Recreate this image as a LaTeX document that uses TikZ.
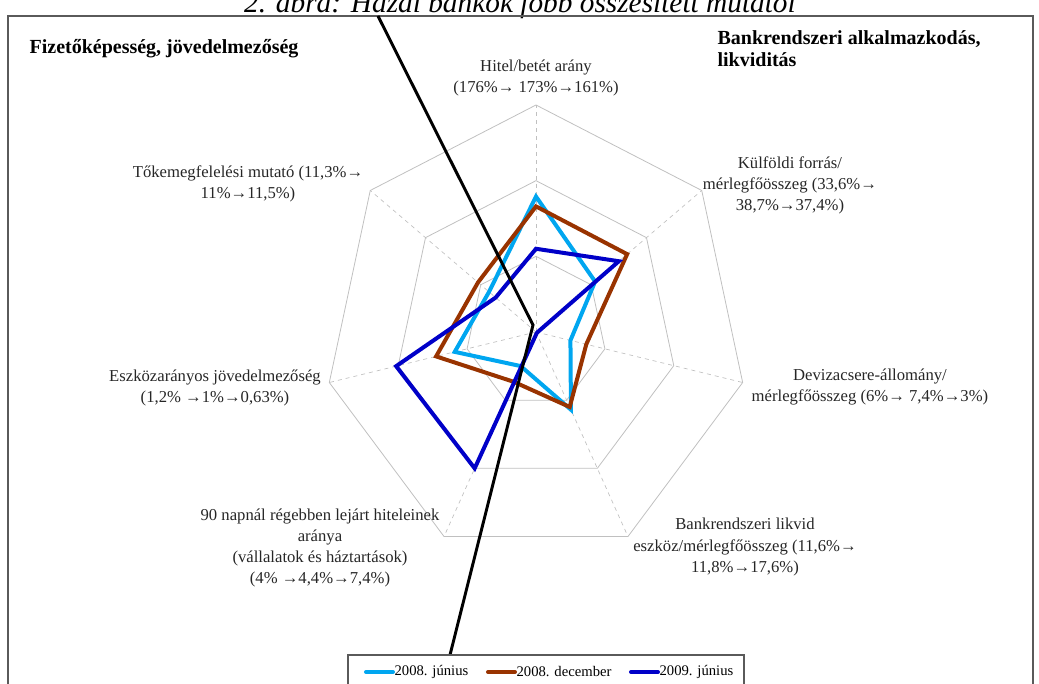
\documentclass[tikz,border=0pt]{standalone}
\usepackage{fontspec}
\setmainfont{Liberation Serif}
\usetikzlibrary{positioning}
\definecolor{jun08}{RGB}{0,166,240}
\definecolor{dec08}{RGB}{153,51,0}
\definecolor{jun09}{RGB}{0,0,200}
\definecolor{gridgray}{RGB}{192,192,192}
\definecolor{framegray}{RGB}{90,90,90}
\tikzset{
  ring/.style={draw=gridgray, line width=0.6pt},
  spoke/.style={draw=gridgray, dashed, line width=0.5pt},
  serie/.style={draw=#1, line width=3pt, line join=miter},
  lbl/.style={font=\fontsize{12.5}{15.8}\selectfont, align=center, text=black!85, inner sep=1pt},
  head/.style={font=\fontsize{15}{16.5}\selectfont\bfseries, align=left, inner sep=1pt},
  legtxt/.style={font=\fontsize{11}{12}\selectfont, inner sep=1pt},
  legline/.style={draw=#1, line width=3pt, line cap=round},
}
\begin{document}
\begin{tikzpicture}[x=0.75pt, y=0.75pt]
\useasboundingbox (-536,-352) rectangle (503,332);

% Title (cut at the top edge)
\node[font=\fontsize{22}{24}\selectfont\itshape, anchor=base] (title) at (-16,319) {2. ábra: Hazai bankok főbb összesített mutatói};

% Frame
\draw[framegray, line width=0.8pt] (-528,-360) -- (-528,316) -- (497,316) -- (497,-360);

% Radar grid and data
\begin{scope}[x=53pt, y=56.75pt]
  \foreach \r in {1,2,3}
    \draw[ring] (90:\r) \foreach \k in {1,...,6}{ -- ({90-\k*360/7}:\r)} -- cycle;
  \foreach \k in {0,...,6}
    \draw[spoke] (0,0) -- ({90-\k*360/7}:3);

  % 2008. június
  \foreach \r [count=\k from 0] in {1.79,1.07,0.50,1.14,0.50,1.18,0.85}
    \coordinate (a\k) at ({90-\k*360/7}:\r);
  \draw[serie=jun08] (a0) \foreach \k in {1,...,6}{ -- (a\k)} -- cycle;

  % 2008. december
  \foreach \r [count=\k from 0] in {1.66,1.65,0.73,1.10,0.73,1.45,1.05}
    \coordinate (b\k) at ({90-\k*360/7}:\r);
  \draw[serie=dec08] (b0) \foreach \k in {1,...,6}{ -- (b\k)} -- cycle;

  % 2009. június
  \foreach \r [count=\k from 0] in {1.10,1.50,0.02,0.02,2.00,2.03,0.73}
    \coordinate (c\k) at ({90-\k*360/7}:\r);
  \draw[serie=jun09] (c0) \foreach \k in {1,...,6}{ -- (c\k)} -- cycle;
\end{scope}

% Axis labels
\node[lbl] (hitel) at (0,254) {Hitel/betét arány\\(176\%→ 173\%→161\%)};
\node[lbl] (kulfold) at (254,147) {Külföldi forrás/\\mérlegfőösszeg (33,6\%→\\38,7\%→37,4\%)};
\node[lbl] (deviza) at (334,-55) {Devizacsere-állomány/\\mérlegfőösszeg (6\%→ 7,4\%→3\%)};
\node[lbl] (likvid) at (209,-215) {Bankrendszeri likvid\\eszköz/mérlegfőösszeg (11,6\%→\\11,8\%→17,6\%)};
\node[lbl] (napnal) at (-216,-216) {90 napnál régebben lejárt hiteleinek\\aránya\\(vállalatok és háztartások)\\(4\% →4,4\%→7,4\%)};
\node[lbl] (eszkoz) at (-321,-56) {Eszközarányos jövedelmezőség\\(1,2\% →1\%→0,63\%)};
\node[lbl] (tokem) at (-288,148) {Tőkemegfelelési mutató (11,3\%→\\11\%→11,5\%)};

% Group headings
\node[head, anchor=west] (fizeto) at (-508,283) {Fizetőképesség, jövedelmezőség};
\node[head, anchor=west] (bankalk) at (180,283) {Bankrendszeri alkalmazkodás,\\likviditás};

% Stray line across the chart
\coordinate (blkA) at (-158,316);
\coordinate (blkB) at (-3,7);
\coordinate (blkC) at (-86,-323);
\draw[black, line width=2.2pt] (blkA) -- (blkB) -- (blkC);

% Legend
\draw[framegray, line width=1pt] (-188,-360) -- (-188,-323) -- (208,-323) -- (208,-360);
\node[legtxt, anchor=west] (lg1) at (-143,-340) {2008. június};
\node[legtxt, anchor=west] (lg2) at (-21,-340) {2008. december};
\node[legtxt, anchor=west] (lg3) at (122,-340) {2009. június};
\draw[legline=jun08] (lg1.west) -- ++(-27,0);
\draw[legline=dec08] (lg2.west) -- ++(-27,0);
\draw[legline=jun09] (lg3.west) -- ++(-27,0);
\end{tikzpicture}
\end{document}
